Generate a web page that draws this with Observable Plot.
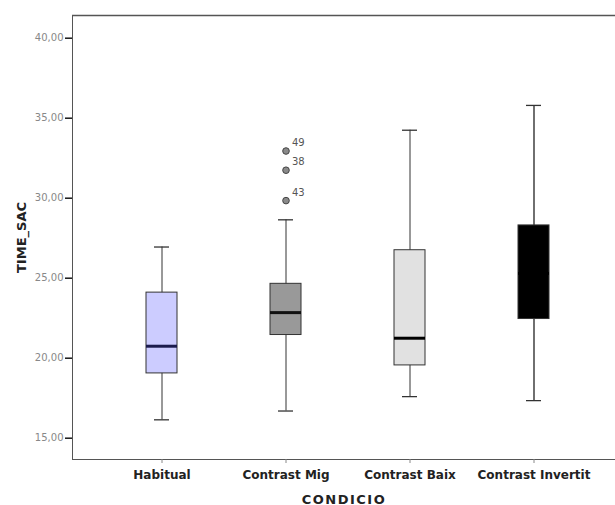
<!DOCTYPE html>
<html><head><meta charset="utf-8">
<script src="https://cdn.jsdelivr.net/npm/d3@7"></script>
<script src="https://cdn.jsdelivr.net/npm/@observablehq/plot@0.6"></script>
<style>
body{margin:0;background:#fff;}
#chart svg{display:block;background:#fff;}
</style></head><body><div id="chart"></div>
<script>
const categories = ["Habitual","Contrast Mig","Contrast Baix","Contrast Invertit"];
const whiskerLow = [16.15, 16.7, 17.6, 17.35];
const q1 = [19.05, 21.45, 19.55, 22.45];
const median = [20.75, 22.85, 21.25, 25.3];
const q3 = [24.1, 24.65, 26.75, 28.3];
const whiskerHigh = [26.95, 28.65, 34.25, 35.8];
const outlierCategory = ["Contrast Mig","Contrast Mig","Contrast Mig"];
const outlierValues = [32.95, 31.75, 29.85];
const outlierLabels = ["49","38","43"];
const boxFills = ["#ccccff","#999999","#e1e1e1","#000000"];
const medianColors = ["#1b1b4d","#111111","#000000","#000000"];
const whiskerWidths = [1, 1, 1, 1.4];
const yTicks = [15,20,25,30,35,40];
const yDomain = [13.67, 41.42];

const boxes = categories.map((c,i)=>({cat:c, lo:whiskerLow[i], q1:q1[i], med:median[i], q3:q3[i], hi:whiskerHigh[i], fill:boxFills[i], mc:medianColors[i], ww:whiskerWidths[i]}));
const outliers = outlierValues.map((v,i)=>({cat:outlierCategory[i], v, label:outlierLabels[i]}));

const fmt = d => d.toFixed(2).replace(".", ",");

const svg = Plot.plot({
  width: 615, height: 505,
  marginLeft: 72, marginRight: 0, marginTop: 15, marginBottom: 46,
  style: {fontFamily: "DejaVu Sans", color: "#555", background: "#fff"},
  x: {type: "band", domain: categories, range: [146, 549.8], paddingInner: 0.746, paddingOuter: 0, align: 0.5,
      tickSize: 4, tickPadding: 7, label: "CONDICIO", labelAnchor: "center", labelOffset: 44, labelArrow: false, line: true},
  y: {domain: yDomain, ticks: yTicks, tickFormat: fmt, tickSize: 7, tickPadding: 2,
      label: "TIME_SAC", labelAnchor: "center", labelOffset: 56, labelArrow: false, line: true},
  marks: [
    Plot.ruleY([yDomain[1]], {stroke: "#555", strokeWidth: 1.5}),
    Plot.ruleX(boxes, {x: "cat", y1: "lo", y2: "hi", stroke: "#333", strokeWidth: "ww"}),
    Plot.tickY(boxes, {x: "cat", y: "lo", stroke: "#333", strokeWidth: 1.3, insetLeft: 8, insetRight: 8}),
    Plot.tickY(boxes, {x: "cat", y: "hi", stroke: "#333", strokeWidth: 1.3, insetLeft: 8, insetRight: 8}),
    Plot.barY(boxes, {x: "cat", y1: "q1", y2: "q3", fill: d => d.fill, stroke: "#333", strokeWidth: 1}),
    Plot.tickY(boxes, {x: "cat", y: "med", stroke: d => d.mc, strokeWidth: 3}),
    Plot.dot(outliers, {x: "cat", y: "v", r: 3.3, fill: "#8a8a8a", stroke: "#444", strokeWidth: 1}),
    Plot.text(outliers, {x: "cat", y: "v", text: "label", dx: 6, dy: -8, textAnchor: "start", fontSize: 10, fill: "#555"})
  ]
});

// style axes
d3.select(svg).selectAll('g[aria-label^="x-axis"] text').each(function(){
  const t = d3.select(this);
  if (t.text().startsWith("CONDICIO")) t.text("CONDICIO").attr("font-size", 13).attr("font-weight", "bold").attr("fill", "#222").style("letter-spacing", "1.5px");
  else t.attr("font-size", 12).attr("font-weight", "bold").attr("fill", "#222");
});
d3.select(svg).selectAll('g[aria-label^="y-axis"] text').each(function(){
  const t = d3.select(this);
  if (t.text().indexOf("TIME_SAC") >= 0) t.text("TIME_SAC").attr("font-size", 13).attr("font-weight", "bold").attr("fill", "#222");
  else t.attr("font-size", 10).attr("fill", "#888");
});
d3.select(svg).selectAll('g[aria-label^="y-axis tick"] path, g[aria-label^="y-axis tick"] line').attr("stroke", "#222").attr("stroke-width", 1.6);
d3.select(svg).selectAll('g[aria-label^="x-axis tick"] path, g[aria-label^="x-axis tick"] line').attr("stroke", "#888");
d3.select(svg).selectAll('g[aria-label$="axis line"] path, g[aria-label$="axis line"] line').attr("stroke", "#555").attr("stroke-width", 1.5);
document.getElementById("chart").appendChild(svg);
</script></body></html>
